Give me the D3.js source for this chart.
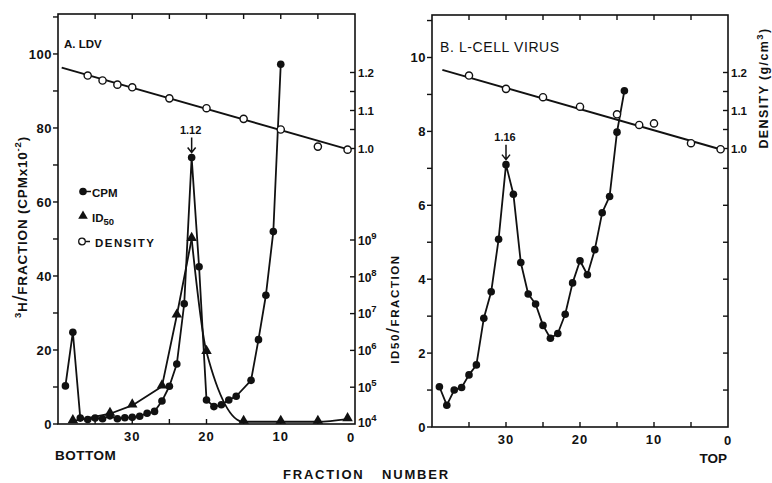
<!DOCTYPE html>
<html>
<head>
<meta charset="utf-8">
<script src="https://cdn.jsdelivr.net/npm/d3@7/dist/d3.min.js"></script>
<style>
  body { margin: 0; background: #fff; }
  svg text { font-family: "Liberation Sans", Arial, sans-serif; font-weight: bold; fill: #111; }
</style>
</head>
<body>
<div id="chart"></div>
<script>
// ---- panel A: LDV ----
const fracA = [39,38,37,36,35,34,33,32,31,30,29,28,27,26,25,24,23,22,21,20,19,18,17,16,14,13,12,11,10];
const cpmA  = [10.3,24.8,1.6,1.2,1.6,1.4,2.2,1.4,1.7,1.8,2.1,2.9,3.4,6.2,10.2,16.2,32.5,72.0,42.5,6.5,4.7,5.2,6.5,7.5,11.8,22.8,34.8,52.0,97.2];
const idFracA = [38,33,30,26,24,22,20,15,10,5,1];
const id50A   = [1.2e4,1.9e4,3.2e4,1.05e5,8.9e6,1.07e9,9.1e5,1.15e4,1.15e4,1.15e4,1.35e4];
const densFracA = [36,34,32,30,25,20,15,10,5,1];
const densA     = [1.192,1.179,1.168,1.161,1.132,1.106,1.078,1.050,1.005,0.997];
const densFitA  = [[39.5,1.213],[0.8,0.997]];

// ---- panel B: L-cell virus ----
const fracB = [39,38,37,36,35,34,33,32,31,30,29,28,27,26,25,24,23,22,21,20,19,18,17,16,15,14];
const cpmB  = [1.09,0.59,1.0,1.07,1.41,1.68,2.94,3.66,5.08,7.1,6.3,4.45,3.6,3.33,2.75,2.4,2.53,3.05,3.9,4.5,4.12,4.8,5.8,6.24,7.98,9.1];
const densFracB = [35,30,25,20,15,12,10,5,1];
const densB     = [1.192,1.157,1.135,1.110,1.090,1.062,1.066,1.014,0.998];
const densFitB  = [[38.6,1.207],[0.7,0.996]];

// ticks
const fracTicks = [35,30,25,20,15,10,5];
const fracLabels = [30,20,10,0];
const densTicks = [1.0,1.05,1.1,1.15,1.2];
const densLabels = [1.0,1.1,1.2];
const logTicks = [1e5,1e6,1e7,1e8,1e9];
const logLabels = [4,5,6,7,8,9];

const W = 772, H = 483;
const svg = d3.select("#chart").append("svg")
    .attr("width", W).attr("height", H);

const xA = d3.scaleLinear().domain([40, 0]).range([58, 355]);
const yA = d3.scaleLinear().domain([0, 110.8]).range([424, 14]);
const yLog = d3.scaleLog().domain([1e4, 1e9]).range([424, 240]);
const xB = d3.scaleLinear().domain([40, 0]).range([432, 728]);
const yB = d3.scaleLinear().domain([0, 11.15]).range([427, 15]);
const yDens = d3.scaleLinear().domain([1.0, 1.2]).range([148.5, 72.5]);

const ink = "#111";

function frame(x, y) {
    const [x0, x1] = x.range(), [y0, y1] = y.range();
    svg.append("rect")
        .attr("x", x0).attr("y", y1)
        .attr("width", x1 - x0).attr("height", y0 - y1)
        .attr("fill", "none").attr("stroke", ink).attr("stroke-width", 1.6);
}

function tickLines(x1, y1, x2, y2) {
    svg.append("line")
        .attr("x1", x1).attr("y1", y1).attr("x2", x2).attr("y2", y2)
        .attr("stroke", ink).attr("stroke-width", 1.4);
}

function xAxes(x, y, labelDy, zeroDx) {
    const [yb, yt] = y.range();
    fracTicks.forEach(f => {
        tickLines(x(f), yb, x(f), yb - 5);
        tickLines(x(f), yt, x(f), yt + 5);
    });
    fracLabels.forEach(f => {
        svg.append("text")
            .attr("x", x(f) + (f === 0 ? zeroDx : 0))
            .attr("y", yb + labelDy + (f === 0 ? 1 : 0))
            .attr("text-anchor", "middle")
            .attr("font-size", 13).attr("letter-spacing", 1)
            .text(f);
    });
}

function leftAxis(x, y, step, labelStep) {
    const x0 = x.range()[0];
    d3.range(0, y.domain()[1], step).forEach(v => tickLines(x0 - 5, y(v), x0, y(v)));
    d3.range(0, y.domain()[1] - 1e-6, labelStep).forEach(v => {
        svg.append("text")
            .attr("x", x0 - 6).attr("y", y(v)).attr("dy", "0.36em")
            .attr("text-anchor", "end")
            .attr("font-size", 13).attr("letter-spacing", 0.5)
            .text(v);
    });
}

function densAxis(x) {
    const x1 = x.range()[1];
    densTicks.forEach(d => tickLines(x1 - 5, yDens(d), x1, yDens(d)));
    densLabels.forEach(d => {
        svg.append("text")
            .attr("x", x1 + 3).attr("y", yDens(d)).attr("dy", "0.36em")
            .attr("font-size", 11.5)
            .text(d3.format(".1f")(d));
    });
}

const lineLin = (x, y) => d3.line().x(d => x(d[0])).y(d => y(d[1]));

function densityMarks(x, fit, fr, vals) {
    svg.append("path")
        .attr("d", lineLin(x, yDens)(fit))
        .attr("fill", "none").attr("stroke", ink).attr("stroke-width", 1.9);
    return () => svg.append("g").selectAll("circle")
        .data(d3.zip(fr, vals)).join("circle")
        .attr("cx", d => x(d[0])).attr("cy", d => yDens(d[1])).attr("r", 3.6)
        .attr("fill", "#fff").attr("stroke", ink).attr("stroke-width", 1.4);
}

function cpmMarks(x, y, fr, vals) {
    const pts = d3.zip(fr, vals);
    svg.append("path")
        .attr("d", lineLin(x, y)(pts))
        .attr("fill", "none").attr("stroke", ink).attr("stroke-width", 1.8)
        .attr("stroke-linejoin", "round");
    svg.append("g").selectAll("circle")
        .data(pts).join("circle")
        .attr("cx", d => x(d[0])).attr("cy", d => y(d[1])).attr("r", 3.8)
        .attr("fill", ink);
}

function peakArrow(x, y, f, v, label) {
    const px = x(f), py = y(v);
    const tip = py - 5, top = py - 20;
    svg.append("path")
        .attr("d", `M${px},${top}V${tip}M${px - 4},${tip - 5}L${px},${tip}L${px + 4},${tip - 5}`)
        .attr("fill", "none").attr("stroke", ink).attr("stroke-width", 1.5);
    svg.append("text")
        .attr("x", px - 1).attr("y", top - 4)
        .attr("text-anchor", "middle").attr("font-size", 11)
        .text(label);
}

// ================= Panel A =================
frame(xA, yA);
xAxes(xA, yA, 17, -4);
leftAxis(xA, yA, 10, 20);
densAxis(xA);

logTicks.forEach(v => tickLines(355 - 5, yLog(v), 355, yLog(v)));
logLabels.forEach(e => {
    const t = svg.append("text")
        .attr("x", 358).attr("y", yLog(Math.pow(10, e)) - (e === 4 ? 2 : 0)).attr("dy", "0.4em")
        .attr("font-size", 12);
    t.append("tspan").text("10");
    t.append("tspan").attr("dy", -6).attr("font-size", 9.5).text(e);
});

const densCirclesA = densityMarks(xA, densFitA, densFracA, densA);

// ID50 (triangles): straight up to the peak, smooth fall afterwards
const idPts = d3.zip(idFracA, id50A);
const peakIdx = id50A.indexOf(d3.max(id50A));
svg.append("path")
    .attr("d", d3.line().x(d => xA(d[0])).y(d => yLog(d[1]))(idPts.slice(0, peakIdx + 1)))
    .attr("fill", "none").attr("stroke", ink).attr("stroke-width", 1.8).attr("stroke-linejoin", "round");
svg.append("path")
    .attr("d", d3.line().curve(d3.curveMonotoneX).x(d => xA(d[0])).y(d => yLog(d[1]))(idPts.slice(peakIdx)))
    .attr("fill", "none").attr("stroke", ink).attr("stroke-width", 1.8);

cpmMarks(xA, yA, fracA, cpmA);

svg.append("g").selectAll("path")
    .data(idPts).join("path")
    .attr("transform", d => `translate(${xA(d[0])},${yLog(d[1]) - 1})`)
    .attr("d", d3.symbol(d3.symbolTriangle, 48))
    .attr("fill", ink);

densCirclesA();

peakArrow(xA, yA, 22, 72.0, "1.12");

svg.append("text").attr("x", 64).attr("y", 48).attr("font-size", 11.5).text("A. LDV");

// legend
const legend = svg.append("g").attr("transform", "translate(83,0)");
legend.append("circle").attr("cx", 0).attr("cy", 191.5).attr("r", 3.8).attr("fill", ink);
legend.append("line").attr("x1", 3).attr("x2", 8).attr("y1", 191.5).attr("y2", 191.5).attr("stroke", ink).attr("stroke-width", 1.5);
legend.append("text").attr("x", 9).attr("y", 196.5).attr("font-size", 11.5).text("CPM");
legend.append("path").attr("transform", "translate(0,216)").attr("d", d3.symbol(d3.symbolTriangle, 40)).attr("fill", ink);
const idt = legend.append("text").attr("x", 9).attr("y", 221.5).attr("font-size", 11.5);
idt.append("tspan").text("ID");
idt.append("tspan").attr("dy", 3).attr("font-size", 9.5).text("50");
legend.append("circle").attr("cx", -1).attr("cy", 241.5).attr("r", 3.3).attr("fill", "#fff").attr("stroke", ink).attr("stroke-width", 1.3);
legend.append("line").attr("x1", 2.5).attr("x2", 7).attr("y1", 241.5).attr("y2", 241.5).attr("stroke", ink).attr("stroke-width", 1.5);
legend.append("text").attr("x", 12).attr("y", 246.5).attr("font-size", 11.5).attr("letter-spacing", 1.5).text("DENSITY");

// left axis title
const yt = svg.append("text")
    .attr("transform", "translate(27,227) rotate(-90)")
    .attr("text-anchor", "middle").attr("font-size", 13.5).attr("letter-spacing", 0.8);
yt.append("tspan").attr("dy", -6).attr("font-size", 9.5).text("3");
yt.append("tspan").attr("dy", 6).text("H");
yt.append("tspan").attr("font-size", 21).style("font-weight", "normal").text("/");
yt.append("tspan").text("FRACTION (CPMx10");
yt.append("tspan").attr("dy", -6).attr("font-size", 9.5).text("-2");
yt.append("tspan").attr("dy", 6).text(")");

// right (ID50) axis title
const it = svg.append("text")
    .attr("transform", "translate(399,309) rotate(-90)")
    .attr("text-anchor", "middle").attr("font-size", 11.5).attr("letter-spacing", 1.6);
it.append("tspan").text("ID50");
it.append("tspan").attr("font-size", 18).style("font-weight", "normal").text("/");
it.append("tspan").text("FRACTION");

// ================= Panel B =================
frame(xB, yB);
xAxes(xB, yB, 17, 0);
leftAxis(xB, yB, 1, 2);
densAxis(xB);
d3.range(1, 8).forEach(v => tickLines(728 - 5, yB(v), 728, yB(v)));

const densCirclesB = densityMarks(xB, densFitB, densFracB, densB);
cpmMarks(xB, yB, fracB, cpmB);
densCirclesB();

peakArrow(xB, yB, 30, 7.1, "1.16");

svg.append("text").attr("x", 440).attr("y", 52).attr("font-size", 14)
    .style("font-weight", "normal").attr("letter-spacing", 0.6).text("B. L-CELL VIRUS");

const dt = svg.append("text")
    .attr("transform", "translate(768,88) rotate(-90)")
    .attr("text-anchor", "middle").attr("font-size", 12.5).attr("letter-spacing", 1.4);
dt.append("tspan").text("DENSITY (g/cm");
dt.append("tspan").attr("dy", -5).attr("font-size", 9.5).text("3");
dt.append("tspan").attr("dy", 5).text(")");

// bottom texts
svg.append("text").attr("x", 55).attr("y", 460).attr("font-size", 13.5).attr("letter-spacing", 0.5).text("BOTTOM");
svg.append("text").attr("x", 727).attr("y", 463).attr("text-anchor", "end").attr("font-size", 13.5).text("TOP");
svg.append("text").attr("x", 283).attr("y", 479).attr("font-size", 13).attr("letter-spacing", 1.8).text("FRACTION");
svg.append("text").attr("x", 382).attr("y", 479).attr("font-size", 13).attr("letter-spacing", 1.8).text("NUMBER");
</script>
</body>
</html>
